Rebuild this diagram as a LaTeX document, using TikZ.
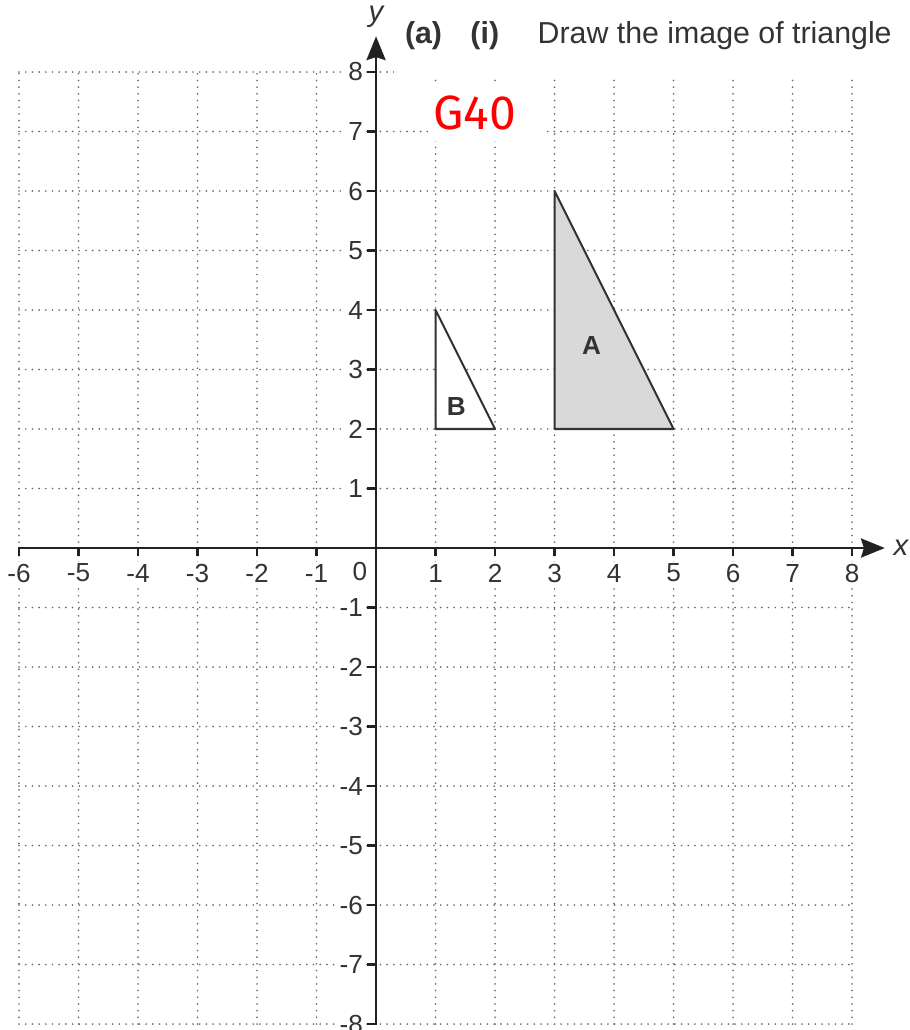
\documentclass[tikz,border=0pt]{standalone}
\usepackage{fontspec}
\setmainfont{Liberation Sans}
\newfontfamily\handfont{Fira Sans}
\usetikzlibrary{arrows.meta}
\definecolor{gridgray}{HTML}{6A6A6A}
\definecolor{axisdark}{HTML}{222222}
\definecolor{labelgray}{HTML}{333333}
\definecolor{fillA}{HTML}{D9D9D9}
\definecolor{markred}{HTML}{FF0000}
\begin{document}
\begin{tikzpicture}[x=1cm,y=1cm,
  gridline/.style={gridgray, line width=0.9pt, line cap=round, dash pattern=on 0pt off 3.2pt},
  axisline/.style={axisdark, line width=1.3pt},
  tickmark/.style={axisdark, line width=1.2pt},
  ticklabel/.style={fill=white, inner sep=1pt, text=labelgray, font=\fontsize{12.5}{14}\selectfont},
  axislabel/.style={text=labelgray, font=\fontsize{14}{16}\selectfont\itshape},
  tri/.style={draw=labelgray, line width=1pt, line join=round},
  trilabel/.style={text=labelgray, font=\fontsize{12.5}{14}\selectfont\bfseries},
  titletext/.style={anchor=base west, text=labelgray, inner sep=0pt, font=\fontsize{14.5}{17}\selectfont},
  arrowtip/.style={-{Stealth[length=0.4cm,width=0.32cm,inset=0.05cm]}}]
\useasboundingbox (-6.32,-8.10) rectangle (8.97,9.21);
% grid
\draw[gridline] (-6,-8) grid (8,8);
% covers
\fill[white] (0.3,7.92) rectangle (8.97,9.21);
% coordinates
\coordinate (xstart) at (-6,0);
\coordinate (xend) at (8.55,0);
\coordinate (ystart) at (0,-8);
\coordinate (yend) at (0,8.6);
% axes
\draw[axisline, arrowtip] (xstart) -- (xend);
\draw[axisline, arrowtip] (ystart) -- (yend);
\node[axislabel] (xlab) at (8.82,0) {x};
\node[axislabel] (ylab) at (0,8.92) {y};
% ticks and labels
\foreach \i in {-6,-5,-4,-3,-2,-1,1,2,3,4,5,6,7,8} {
  \draw[tickmark] (\i,0.02) -- (\i,-0.13);
  \node[ticklabel] (xl\i) at (\i,-0.42) {\i};
}
\foreach \j in {-8,-7,-6,-5,-4,-3,-2,-1,1,2,3,4,5,6,7,8} {
  \draw[tickmark] (0.02,\j) -- (-0.15,\j);
  \node[ticklabel, anchor=east] (yl\j) at (-0.18,\j) {\j};
}
\node[ticklabel] (origin) at (-0.27,-0.40) {0};
% triangles
\coordinate (A1) at (3,2);
\coordinate (A2) at (3,6);
\coordinate (A3) at (5,2);
\coordinate (B1) at (1,2);
\coordinate (B2) at (1,4);
\coordinate (B3) at (2,2);
\draw[tri, fill=fillA] (A1) -- (A2) -- (A3) -- cycle;
\draw[tri, fill=white] (B1) -- (B2) -- (B3) -- cycle;
\node[trilabel] (labA) at (3.62,3.41) {A};
\node[trilabel] (labB) at (1.35,2.38) {B};
% title
\node[titletext, font=\fontsize{14.5}{17}\selectfont\bfseries] (ta) at (0.48,8.48) {(a)};
\node[titletext, font=\fontsize{14.5}{17}\selectfont\bfseries] (ti) at (1.58,8.48) {(i)};
\node[titletext] (tt) at (2.71,8.48) {Draw the image of triangle};
% G40
\node[anchor=west, fill=white, text=markred, minimum height=0.95cm, text width=1.78cm, inner xsep=0.04cm, font=\handfont\fontsize{23}{26}\selectfont] (g40) at (0.92,7.32) {G40};
\end{tikzpicture}
\end{document}
